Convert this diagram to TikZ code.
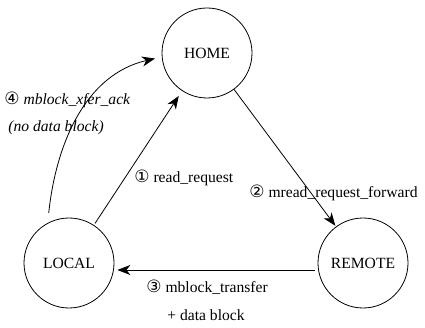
\documentclass[tikz,border=0pt]{standalone}
\usepackage{fontspec}
\setmainfont{Liberation Serif}
\newfontfamily\circfont{DejaVu Sans}
\usetikzlibrary{arrows.meta}
\newcommand{\cnum}[1]{{\circfont\fontsize{17}{18}\selectfont #1}}

\begin{document}
\begin{tikzpicture}[x=1pt, y=-1pt, >={Stealth[length=13pt,width=10pt,inset=4pt]}, line width=0.8pt, font=\fontsize{15.6}{18}\selectfont]
    \tikzstyle{state}=[draw=black, circle, minimum size=90pt, inner sep=0pt]
    \tikzstyle{lbl}=[anchor=west, inner sep=0pt]
    \useasboundingbox (0,0) rectangle (425,328);

    \node[state] (home) at (207,53) {HOME};
    \node[state] (local) at (69,263) {LOCAL};
    \node[state] (remote) at (363,263) {REMOTE};

    \draw[->, shorten <=2pt, shorten >=6pt] (local) -- (home);
    \draw[->, shorten >=1pt] (home) -- (remote);
    \draw[->, shorten <=3pt, shorten >=3pt] ([yshift=-7pt]remote.west) -- ([yshift=-7pt]local.east);
    \draw[->, shorten <=10pt, shorten >=7pt] (local.118) to[out=84, in=193] (home.185);

    \node[lbl] (ack) at (4,100) {\cnum{④} \textit{mblock\_xfer\_ack}};
    \node[lbl] (nodata) at (8,128) {\textit{(no data block)}};
    \node[lbl] (rreq) at (134,178) {\cnum{①} read\_request};
    \node[lbl] (fwd) at (249,193) {\cnum{②} mread\_request\_forward};
    \node[lbl] (xfer) at (146,287) {\cnum{③} mblock\_transfer};
    \node[lbl] (data) at (167,315) {+ data block};
\end{tikzpicture}
\end{document}
